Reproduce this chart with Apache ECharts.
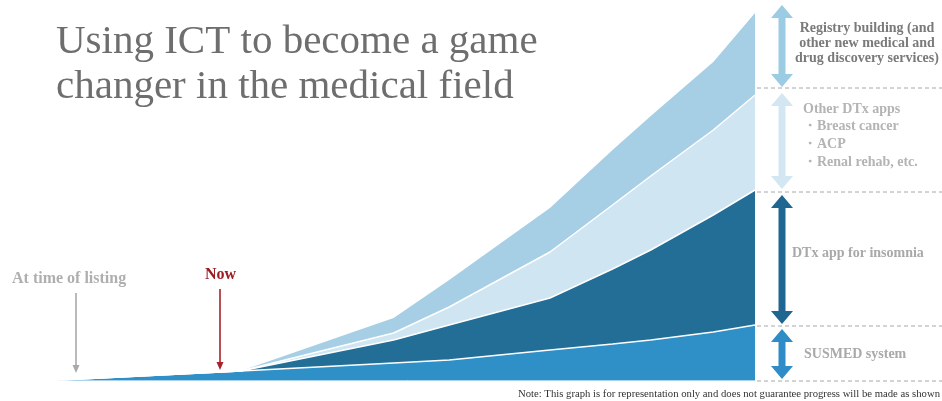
<!DOCTYPE html>
<html>
<head>
<meta charset="utf-8">
<script src="https://cdn.jsdelivr.net/npm/echarts@6/dist/echarts.min.js"></script>
<style>html,body{margin:0;padding:0;background:#fff}#c{width:942px;height:401px}</style>
</head>
<body>
<div id="c"></div>
<script>
// x positions (relative time units, 0 = time of listing, 100 = far future)
var xValues = [0, 26, 48, 56, 70.5, 79.5, 85, 94, 100];
// layer thicknesses (relative scale), bottom to top
var susmed   = [0, 9, 17, 20, 30, 36, 40, 48, 55];
var insomnia = [0, 0, 23, 35, 52, 75, 90, 117, 135];
var otherDtx = [0, 0, 7, 18, 46, 64, 74, 85, 95];
var registry = [0, 0, 15, 27, 44, 55, 60, 68, 82];

var seriesNames = ['SUSMED system', 'DTx app for insomnia', 'Other DTx apps', 'Registry building'];
var titleLines = ['Using ICT to become a game', 'changer in the medical field'];
var noteText = 'Note: This graph is for representation only and does not guarantee progress will be made as shown';

var SERIF = '"Liberation Serif", "Times New Roman", serif';

function dblArrow(cx, y1, y2, color, hw, hl, sw) {
  return {
    type: 'polygon', z: 100,
    shape: { points: [
      [cx, y1], [cx + hw, y1 + hl], [cx + sw, y1 + hl], [cx + sw, y2 - hl], [cx + hw, y2 - hl],
      [cx, y2], [cx - hw, y2 - hl], [cx - sw, y2 - hl], [cx - sw, y1 + hl], [cx - hw, y1 + hl]
    ] },
    style: { fill: color }
  };
}
function downArrow(x, y1, y2, color) {
  return [
    { type: 'line', z: 100, shape: { x1: x, y1: y1, x2: x, y2: y2 - 6 }, style: { stroke: color, lineWidth: 1.6 } },
    { type: 'polygon', z: 100, shape: { points: [[x - 3.5, y2 - 8], [x + 3.5, y2 - 8], [x, y2]] }, style: { fill: color } }
  ];
}
function dashed(y) {
  return { type: 'line', z: 100, shape: { x1: 757, y1: y, x2: 942, y2: y }, style: { stroke: '#a8a8a8', lineWidth: 1, lineDash: [4, 3] } };
}
function txt(x, y, t, size, color, weight, align) {
  return { type: 'text', z: 100, x: x, y: y, style: { text: t, font: (weight || 'bold') + ' ' + size + 'px ' + SERIF, fill: color, align: align || 'left', verticalAlign: 'top' } };
}

var graphics = [];
graphics.push(txt(56, 22, titleLines[0], 41, '#6e6e6e', 'normal'));
graphics.push(txt(56, 67, titleLines[1], 41, '#6e6e6e', 'normal'));
graphics.push(txt(12, 271, 'At time of listing', 16, '#afafaf'));
graphics.push(txt(205, 267, 'Now', 16, '#9b1c22'));
graphics = graphics.concat(downArrow(76, 293, 373, '#a9a9a9'));
graphics = graphics.concat(downArrow(220, 289, 370, '#a8242a'));
[88, 192, 326, 381].forEach(function (y) { graphics.push(dashed(y)); });
graphics.push(dblArrow(782, 5, 87, '#9ccbe4', 11, 13, 3.5));
graphics.push(dblArrow(782, 93, 189, '#d3e7f3', 11, 13, 3.5));
graphics.push(dblArrow(782, 195, 324, '#1f6790', 11, 13, 3.5));
graphics.push(dblArrow(782, 329, 379, '#2f8cc6', 11, 13, 3.5));
graphics.push(txt(867, 21, 'Registry building (and', 14, '#7a7a7a', 'bold', 'center'));
graphics.push(txt(867, 36, 'other new medical and', 14, '#7a7a7a', 'bold', 'center'));
graphics.push(txt(867, 51, 'drug discovery services)', 14, '#7a7a7a', 'bold', 'center'));
graphics.push(txt(803, 102, 'Other DTx apps', 14, '#b4b4b4'));
graphics.push(txt(803, 119, '・Breast cancer', 14, '#b4b4b4'));
graphics.push(txt(803, 137, '・ACP', 14, '#b4b4b4'));
graphics.push(txt(803, 155, '・Renal rehab, etc.', 14, '#b4b4b4'));
graphics.push(txt(792, 246, 'DTx app for insomnia', 14, '#a9a9a9'));
graphics.push(txt(804, 347, 'SUSMED system', 14, '#a9a9a9'));
graphics.push(txt(940, 389, noteText, 10.7, '#333333', 'normal', 'right'));

var colors = ['#2f8fc7', '#236e97', '#d0e5f2', '#a6cfe5'];
var layers = [susmed, insomnia, otherDtx, registry];

// cumulative tops of each layer (drawn from the top layer down so lower layers paint over)
var cumulative = [];
layers.forEach(function (vals, i) {
  cumulative.push(vals.map(function (v, j) { return v + (i > 0 ? cumulative[i - 1][j] : 0); }));
});

var series = [];
for (var i = layers.length - 1; i >= 0; i--) {
  series.push({
    name: seriesNames[i], type: 'line', symbol: 'none',
    data: xValues.map(function (x, j) { return [x, cumulative[i][j]]; }),
    lineStyle: { color: '#ffffff', width: i === layers.length - 1 ? 0 : 1.5 },
    areaStyle: { color: colors[i], opacity: 1, origin: 'start' },
    z: 2
  });
}

var chart = echarts.init(document.getElementById('c'), null, { renderer: 'canvas' });
chart.setOption({
  animation: false,
  backgroundColor: '#ffffff',
  grid: { left: 60, right: 187, top: 11, bottom: 21 },
  xAxis: { type: 'value', min: 0, max: 100, show: true,
    axisLine: { show: true, lineStyle: { color: '#a9d3ec', width: 1 } },
    axisTick: { show: false }, axisLabel: { show: false }, splitLine: { show: false } },
  yAxis: { type: 'value', min: 0, max: 369, show: false, splitLine: { show: false } },
  series: series,
  graphic: graphics
});
</script>
</body>
</html>
